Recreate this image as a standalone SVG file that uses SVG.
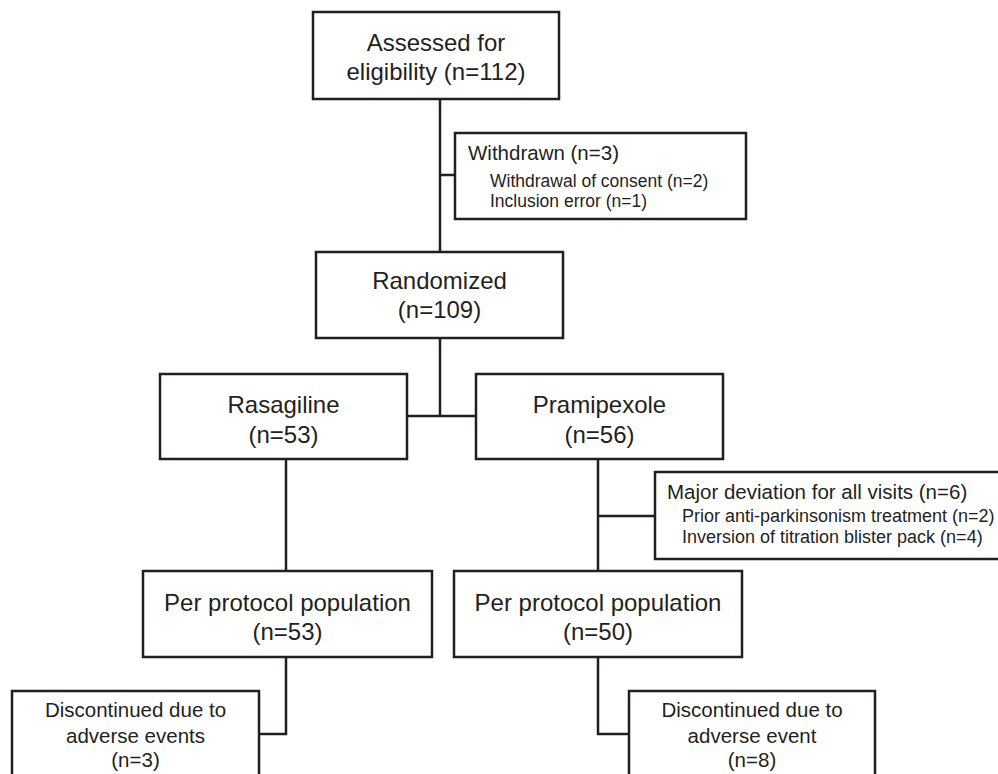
<svg xmlns="http://www.w3.org/2000/svg" width="998" height="774" viewBox="0 0 998 774">
<style>
.box{fill:#fff;stroke:#231f20;stroke-width:2.5}
.ln{fill:none;stroke:#231f20;stroke-width:2.5}
text{font-family:"Liberation Sans",Arial,sans-serif;fill:#231f20}
.m{font-size:24px;text-anchor:middle}
.d{font-size:20.5px;text-anchor:middle}
.h{font-size:20.5px}
.s{font-size:17.5px}
.s2{font-size:18px}
</style>
<rect width="998" height="774" fill="#fff"/>
<g id="connectors">
<path class="ln" d="M440,99 V252"/>
<path class="ln" d="M440,175 H455"/>
<path class="ln" d="M440,338 V416 M407,416 H476"/>
<path class="ln" d="M286,459 V571"/>
<path class="ln" d="M598,459 V571 M598,516 H655"/>
<path class="ln" d="M286,657 V734 H259"/>
<path class="ln" d="M598,657 V734 H629"/>
</g>
<g id="assessed">
<rect class="box" x="313" y="12" width="246" height="87"/>
<text class="m" x="436" y="51">Assessed for</text>
<text class="m" x="436" y="80">eligibility (n=112)</text>
</g>
<g id="withdrawn">
<rect class="box" x="455" y="133" width="291" height="86"/>
<text class="h" x="468" y="160">Withdrawn (n=3)</text>
<text class="s" x="490" y="187">Withdrawal of consent (n=2)</text>
<text class="s" x="490" y="207">Inclusion error (n=1)</text>
</g>
<g id="randomized">
<rect class="box" x="316" y="252" width="247" height="86"/>
<text class="m" x="439.5" y="289">Randomized</text>
<text class="m" x="439.5" y="318">(n=109)</text>
</g>
<g id="rasagiline">
<rect class="box" x="160" y="374" width="247" height="85"/>
<text class="m" x="283.5" y="413">Rasagiline</text>
<text class="m" x="283.5" y="443">(n=53)</text>
</g>
<g id="pramipexole">
<rect class="box" x="476" y="374" width="247" height="85"/>
<text class="m" x="599.5" y="413">Pramipexole</text>
<text class="m" x="599.5" y="443">(n=56)</text>
</g>
<g id="deviation">
<rect class="box" x="655" y="472" width="346" height="87"/>
<text class="h" x="667" y="499">Major deviation for all visits (n=6)</text>
<text class="s2" x="682" y="522">Prior anti-parkinsonism treatment (n=2)</text>
<text class="s2" x="682" y="543">Inversion of titration blister pack (n=4)</text>
</g>
<g id="pp-rasagiline">
<rect class="box" x="143" y="571" width="289" height="86"/>
<text class="m" x="287.5" y="611">Per protocol population</text>
<text class="m" x="287.5" y="640">(n=53)</text>
</g>
<g id="pp-pramipexole">
<rect class="box" x="454" y="571" width="288" height="86"/>
<text class="m" x="598" y="611">Per protocol population</text>
<text class="m" x="598" y="640">(n=50)</text>
</g>
<g id="disc-rasagiline">
<rect class="box" x="12" y="691" width="247" height="90"/>
<text class="d" x="135.5" y="717">Discontinued due to</text>
<text class="d" x="135.5" y="743">adverse events</text>
<text class="d" x="135.5" y="767">(n=3)</text>
</g>
<g id="disc-pramipexole">
<rect class="box" x="629" y="691" width="246" height="90"/>
<text class="d" x="752" y="717">Discontinued due to</text>
<text class="d" x="752" y="743">adverse event</text>
<text class="d" x="752" y="767">(n=8)</text>
</g>
</svg>
